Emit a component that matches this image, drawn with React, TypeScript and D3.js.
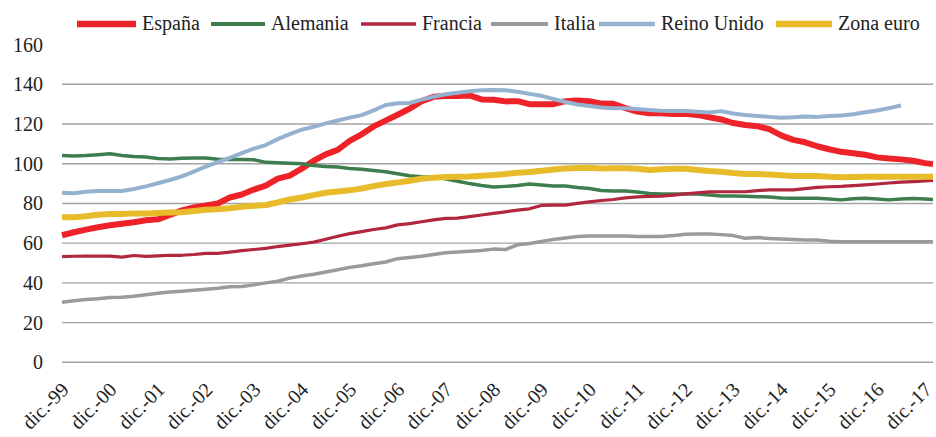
import React from "react";
import * as d3 from "d3";

// Quarterly observations from dic.-99 to dic.-17, plus the last one (feb.-18)
const years = ["99","00","01","02","03","04","05","06","07","08","09","10","11","12","13","14","15","16","17"];
const monthNames = ["ene.","feb.","mar.","abr.","may.","jun.","jul.","ago.","sep.","oct.","nov.","dic."];
// months elapsed since dic.-99 for every observation
const pointMonths: number[] = [];
for (let m = 0; m <= 216; m += 3) pointMonths.push(m);
pointMonths.push(218);
const categories = pointMonths.map((m) => {
  const mi = (11 + m) % 12;
  const yi = 1999 + Math.floor((11 + m) / 12);
  return monthNames[mi] + "-" + String(yi).slice(2);
});
const tickLabels = years.map((y) => "dic.-" + y);
const tickMonths = years.map((_, k) => k * 12);
const yTicks = [0, 20, 40, 60, 80, 100, 120, 140, 160];

const espana = [64,65.5,66.8,68,69,69.8,70.5,71.5,72,74.2,76.5,78,79,80,83,84.5,87,89,92.5,94,97.5,101.5,104.7,107,111.5,114.8,118.8,121.7,124.7,127.7,131.5,133.7,134.1,134.1,134.4,132.4,132.2,131.4,131.5,130,129.9,130,131.5,131.8,131.5,130.3,130.2,128,126.3,125.4,125.4,125.1,125.2,124.6,123.4,122.3,120.5,119.5,118.9,117.4,114.3,112,110.8,108.8,107.3,106,105.3,104.5,103.2,102.6,102.2,101.5,100.3,99.8];
const alemania = [104.2,103.9,104.1,104.5,105,104.2,103.6,103.4,102.6,102.4,102.8,102.9,102.9,102.3,102.1,102.1,102,100.7,100.5,100.3,100,99.1,98.6,98.4,97.6,97.2,96.6,96,95,94,93.5,93.2,92.4,91.2,90,89,88.3,88.6,89,89.8,89.3,88.8,88.8,88,87.5,86.5,86.3,86.3,85.8,85,84.8,84.8,84.8,84.8,84.3,83.8,83.8,83.6,83.4,83.3,82.8,82.6,82.6,82.6,82.3,81.8,82.4,82.6,82.3,81.8,82.3,82.5,82.2,82];
const francia = [53.2,53.4,53.5,53.5,53.5,53,53.8,53.3,53.6,53.9,53.9,54.3,54.9,54.9,55.5,56.2,56.8,57.4,58.3,59,59.7,60.5,62,63.5,64.8,65.8,66.9,67.7,69.2,69.8,70.8,71.7,72.5,72.6,73.4,74.2,75,75.8,76.6,77.3,79,79.2,79.2,80,80.8,81.5,82,82.8,83.3,83.6,83.7,84.2,84.8,85.3,85.8,85.9,85.9,85.9,86.5,86.8,86.8,86.8,87.5,88.1,88.4,88.6,89,89.4,89.8,90.3,90.7,91,91.4,91.6];
const italia = [30.2,31,31.6,32,32.6,32.8,33.3,34,34.8,35.4,35.8,36.3,36.8,37.3,38.1,38.2,39,40,40.8,42.4,43.5,44.3,45.5,46.6,47.8,48.6,49.6,50.5,52.2,52.8,53.4,54.3,55.2,55.6,55.9,56.3,57,56.8,59.2,59.8,60.8,61.9,62.6,63.3,63.6,63.6,63.6,63.6,63.4,63.3,63.4,63.8,64.5,64.6,64.6,64.3,63.8,62.5,62.8,62.4,62.1,61.9,61.6,61.6,61,60.7,60.7,60.7,60.7,60.7,60.7,60.7,60.7,60.7];
const reinoUnido: (number | null)[] = [85.4,85.1,85.9,86.3,86.3,86.3,87.3,88.6,90.2,91.8,93.6,96,98.6,100.8,103,105.3,107.6,109.4,112.4,114.9,117.2,118.6,120.3,121.8,123.2,124.5,126.9,129.6,130.5,130.6,132.3,133.7,135,135.7,136.5,137,137.1,137,136.3,135.2,134.2,132.6,131.1,129.8,129.1,128.3,128,128,127.6,127.1,126.7,126.6,126.5,126.2,125.8,126.5,125.3,124.6,124.1,123.6,123.2,123.4,123.8,123.6,124,124.3,124.9,125.9,126.8,128,129.3,null,null,null];
const zonaEuro = [73,73.1,73.6,74.3,74.7,74.7,75,75,75.2,75.4,75.6,76.2,76.8,77.1,77.6,78.3,78.8,79.2,80.5,82,83,84.2,85.4,86,86.6,87.5,88.7,89.8,90.5,91.4,92.4,93,93.3,93.5,93.6,94,94.3,94.8,95.5,95.8,96.5,97.1,97.6,97.9,98,97.6,97.7,97.7,97.5,96.9,97.2,97.5,97.5,96.9,96.3,96,95.3,94.8,94.8,94.6,94.2,93.8,93.8,93.8,93.5,93.2,93.3,93.4,93.4,93.4,93.4,93.4,93.4,93.4];

const seriesNames = ["España", "Alemania", "Francia", "Italia", "Reino Unido", "Zona euro"];
const seriesValues: (number | null)[][] = [espana, alemania, francia, italia, reinoUnido, zonaEuro];
const seriesColors = ["#EE2229", "#3E7E4E", "#B2263E", "#9A9A9A", "#94B2CF", "#E8BB2A"];
const seriesWidths = [6, 3.5, 3.2, 3.5, 4, 6];

const W = 936, H = 437;
const plotLeft = 62, plotRight = 933;
const plotTop = 44.6, plotBottom = 362.3;
const FONT = "'Liberation Serif', 'Times New Roman', serif";

const legendLayout = [
  { x1: 77, x2: 136 },
  { x1: 211, x2: 265 },
  { x1: 361, x2: 416 },
  { x1: 491, x2: 548 },
  { x1: 599, x2: 655 },
  { x1: 776, x2: 832 },
];

export default function App() {
  const x = d3
    .scaleLinear()
    .domain([0, pointMonths[pointMonths.length - 1]])
    .range([plotLeft, plotRight]);
  const y = d3.scaleLinear().domain([0, 160]).range([plotBottom, plotTop]);

  const line = d3
    .line<number | null>()
    .defined((d) => d != null)
    .x((_, i) => x(pointMonths[i]))
    .y((d) => y(d as number));

  return (
    <svg
      width={W}
      height={H}
      style={{ position: "absolute", left: 0, top: 0, background: "#fff" }}
      fontFamily={FONT}
      data-categories={categories.length}
    >
      {yTicks.filter((t) => t < 160).map((t) => (
        <line
          key={t}
          x1={plotLeft}
          x2={plotRight}
          y1={y(t)}
          y2={y(t)}
          stroke="#a3a3a3"
          strokeWidth={1.4}
        />
      ))}
      {yTicks.map((t) => (
        <text
          key={t}
          x={43}
          y={y(t)}
          dy="0.35em"
          textAnchor="end"
          fontSize={20}
          fill="#222"
        >
          {t}
        </text>
      ))}
      {tickLabels.map((lab, k) => {
        const px = x(tickMonths[k]);
        return (
          <text
            key={lab}
            transform={`translate(${px + 3},${386}) rotate(-45)`}
            textAnchor="end"
            dy="0.35em"
            fontSize={20}
            fill="#222"
          >
            {lab}
          </text>
        );
      })}
      {seriesValues.map((vals, si) => (
        <path
          key={seriesNames[si]}
          d={line(vals) || ""}
          fill="none"
          stroke={seriesColors[si]}
          strokeWidth={seriesWidths[si]}
          strokeLinejoin="round"
        />
      ))}
      {seriesNames.map((n, si) => (
        <g key={n}>
          <line
            x1={legendLayout[si].x1}
            x2={legendLayout[si].x2}
            y1={24}
            y2={24}
            stroke={seriesColors[si]}
            strokeWidth={seriesWidths[si] + 0.5}
          />
          <text x={legendLayout[si].x2 + 6} y={30} fontSize={20} fill="#222">
            {n}
          </text>
        </g>
      ))}
    </svg>
  );
}
